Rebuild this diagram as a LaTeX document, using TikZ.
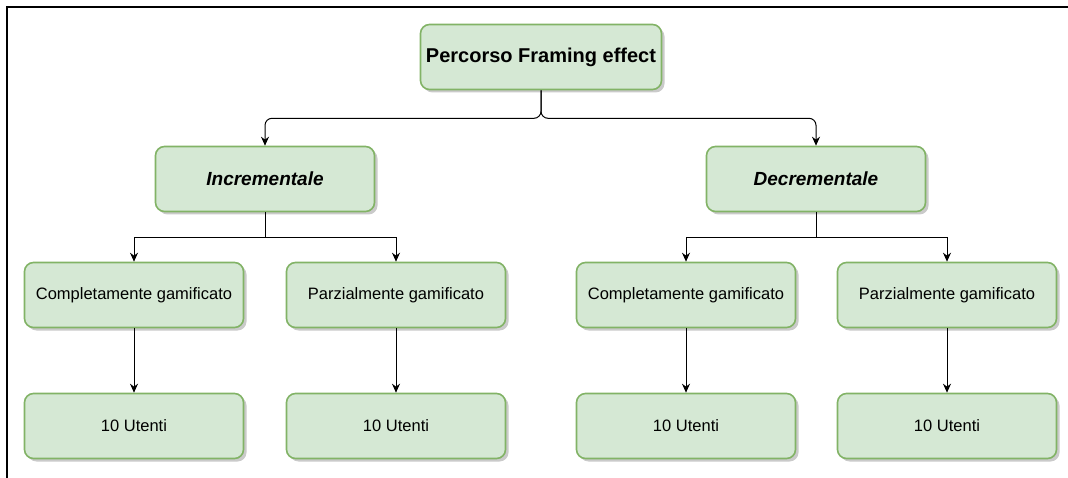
\documentclass[tikz,border=0pt]{standalone}
\usepackage{fontspec}
\setmainfont{Liberation Sans}
\usetikzlibrary{arrows.meta,shadows}
\definecolor{boxfill}{HTML}{D5E8D4}
\definecolor{boxline}{HTML}{82B366}
\tikzset{
  box/.style={draw=boxline, fill=boxfill, line width=1.6pt, rounded corners=9pt,
    minimum width=219pt, minimum height=65pt, inner sep=0pt, align=center,
    font=\fontsize{16.5}{19}\selectfont,
    drop shadow={shadow xshift=3pt, shadow yshift=-3pt, fill=black!35, opacity=0.6}},
  headbox/.style={box, font=\fontsize{19}{22}\selectfont\bfseries\itshape},
  rootbox/.style={box, minimum width=241pt, font=\fontsize{20}{24}\selectfont\bfseries},
  link/.style={draw=black, line width=1pt, -{Stealth[length=9pt,width=8pt]}},
}
\begin{document}
\begin{tikzpicture}[x=1pt,y=-1pt]
  \useasboundingbox (0,0) rectangle (1068,478);
  % open frame: left and top edges
  \draw[line width=2.5pt, line join=miter] (7,478) -- (7,7) -- (1068,7);

  % root
  \node[rootbox] (root) at (541,57) {Percorso Framing effect};

  % the two paths
  \node[headbox] (inc) at (265,179) {Incrementale};
  \node[headbox] (dec) at (816,179) {Decrementale};

  % variants
  \node[box] (incC) at (134,295) {Completamente gamificato};
  \node[box] (incP) at (396,295) {Parzialmente gamificato};
  \node[box] (decC) at (686,295) {Completamente gamificato};
  \node[box] (decP) at (947,295) {Parzialmente gamificato};

  % users
  \node[box] (incCu) at (134,426) {10 Utenti};
  \node[box] (incPu) at (396,426) {10 Utenti};
  \node[box] (decCu) at (686,426) {10 Utenti};
  \node[box] (decPu) at (947,426) {10 Utenti};

  % connectors
  \draw[link, rounded corners=7pt] (root.south) -- ++(0,28) -| (inc.north);
  \draw[link, rounded corners=7pt] (root.south) -- ++(0,28) -| (dec.north);

  \draw[link] (inc.south) -- ++(0,25) -| (incC.north);
  \draw[link] (inc.south) -- ++(0,25) -| (incP.north);
  \draw[link] (dec.south) -- ++(0,25) -| (decC.north);
  \draw[link] (dec.south) -- ++(0,25) -| (decP.north);

  \draw[link] (incC) -- (incCu);
  \draw[link] (incP) -- (incPu);
  \draw[link] (decC) -- (decCu);
  \draw[link] (decP) -- (decPu);
\end{tikzpicture}
\end{document}
